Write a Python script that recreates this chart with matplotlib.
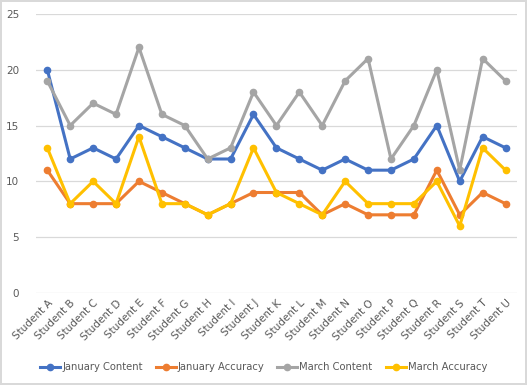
import numpy as np
import matplotlib.pyplot as plt

students = ["Student " + c for c in "ABCDEFGHIJKLMNOPQRSTU"]
jan_content = [20, 12, 13, 12, 15, 14, 13, 12, 12, 16, 13, 12, 11, 12, 11, 11, 12, 15, 10, 14, 13]
jan_accuracy = [11, 8, 8, 8, 10, 9, 8, 7, 8, 9, 9, 9, 7, 8, 7, 7, 7, 11, 7, 9, 8]
mar_content = [19, 15, 17, 16, 22, 16, 15, 12, 13, 18, 15, 18, 15, 19, 21, 12, 15, 20, 11, 21, 19]
mar_accuracy = [13, 8, 10, 8, 14, 8, 8, 7, 8, 13, 9, 8, 7, 10, 8, 8, 8, 10, 6, 13, 11]

series = [
    ("January Content", jan_content, "#4472C4"),
    ("January Accuracy", jan_accuracy, "#ED7D31"),
    ("March Content", mar_content, "#A5A5A5"),
    ("March Accuracy", mar_accuracy, "#FFC000"),
]

fig = plt.figure(figsize=(5.27, 3.85), dpi=100)
fig.patch.set_edgecolor("#D9D9D9")
fig.patch.set_linewidth(1.5)
ax = fig.add_axes([0.068, 0.239, 0.913, 0.725])

x = np.arange(len(students))
for name, vals, col in series:
    ax.plot(x, vals, color=col, lw=2.2, marker="o", markersize=4.5, label=name)

ax.set_xlim(-0.5, len(students) - 0.5)
ax.set_ylim(0, 25)
ax.set_yticks(range(0, 26, 5))
ax.set_xticks(x)
ax.set_xticklabels(students, rotation=45, ha="right", rotation_mode="anchor")
ax.tick_params(axis="both", length=0, labelsize=7.5, colors="#595959")
ax.tick_params(axis="y", pad=12)
ax.yaxis.grid(True, color="#D9D9D9", lw=0.9)
ax.set_axisbelow(True)
for s in ax.spines.values():
    s.set_visible(False)

fig.legend(loc="lower center", bbox_to_anchor=(0.5, 0.01), ncol=4, frameon=False,
           fontsize=7.2, labelcolor="#595959", handlelength=2.0, columnspacing=1.3,
           handletextpad=0.2)

fig.savefig("out.png", dpi=100)
